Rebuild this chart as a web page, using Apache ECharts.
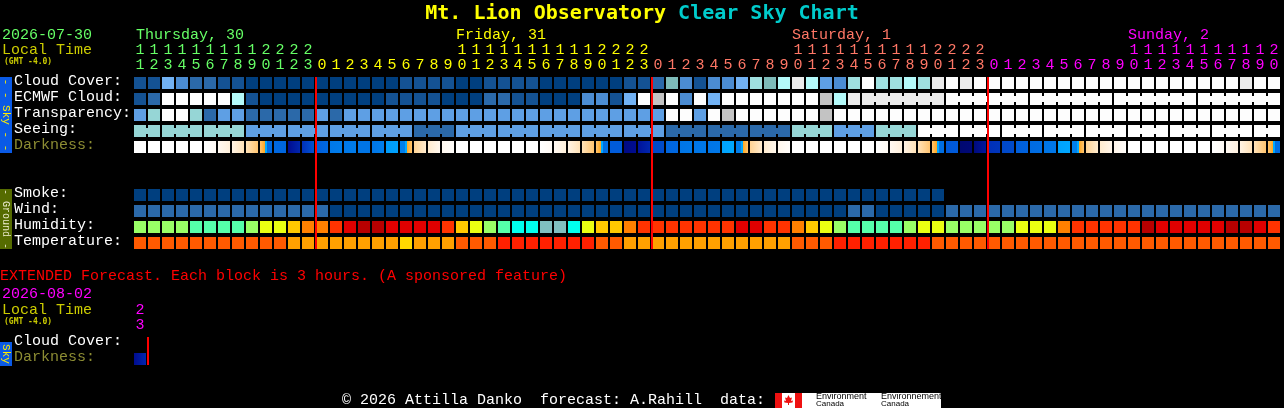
<!DOCTYPE html>
<html><head><meta charset="utf-8">
<style>html,body{margin:0;padding:0;background:#000}#c{width:1284px;height:408px}</style>
<script src="https://cdn.jsdelivr.net/npm/echarts@6/dist/echarts.min.js"></script>
</head><body><div id="c"></div>
<script>
const hours=['11','12','13','14','15','16','17','18','19','20','21','22','23',
'0','1','2','3','4','5','6','7','8','9','10','11','12','13','14','15','16','17','18','19','20','21','22','23',
'0','1','2','3','4','5','6','7','8','9','10','11','12','13','14','15','16','17','18','19','20','21','22','23',
'0','1','2','3','4','5','6','7','8','9','10','11','12','13','14','15','16','17','18','19','20'];
const rowNames=['Cloud Cover:','ECMWF Cloud:','Transparency:','Seeing:','Darkness:','','','Smoke:','Wind:','Humidity:','Temperature:'];
const midnightCols=[13,37,61];
const skyColors=['#003f7f','#145293','#2b69a9','#4b8cd2','#5e9fe4','#72b2f4','#7dbbb9','#9fe0e0','#b4fafa','#ebebeb','#fdfdfd','#c3c3c3','#96d6d6'];
const cloudCover=[1,1,5,3,2,2,1,1,0,0, 0,0,0,0,0,0,0,0,0,1, 1,1,1,0,0,1,1,1,1,0, 0,0,0,0,0,1,1,2,6,3, 1,3,3,5,7,6,8,9,8,4, 3,7,10,7,7,8,7,9,10,9, 10,10,10,10,10,10,10,10,10,10, 10,10,10,10,10,10,10,10,10,9,10,10];
const ecmwfCloud=[1,2,10,10,10,10,10,8,1,0, 0,0,0,0,0,0,0,0,1,1, 1,1,0,0,0,2,2,1,1,0, 0,0,3,3,1,5,10,11,10,3, 10,5,10,10,10,10,10,10,10,11, 8,9,9,9,9,9,9,9,10,10, 10,10,10,10,10,10,10,10,10,10, 10,10,10,10,10,10,10,10,10,10,10,10];
const transparency=[4,12,10,10,12,2,4,4,2,2, 2,2,2,4,2,4,4,4,4,4, 4,4,4,4,4,4,4,4,4,4, 4,4,4,4,4,4,4,4,10,10, 4,10,11,10,10,10,10,10,10,11, 10,10,10,10,10,10,10,10,10,10, 10,10,10,10,10,10,10,10,10,10, 10,10,10,10,10,10,10,10,10,10,10,10];
const seeing=[12,12,12,12,12,12,12,12,4,4, 4,4,4,4,4,4,4,4,4,4, 2,2,2,4,4,4,4,4,4,4, 4,4,4,4,4,4,4,4,2,2, 2,2,2,2,2,2,2,12,12,12, 4,4,4,12,12,12,10,10,10,10, 10,10,10,10,10,10,10,10,10,10, 10,10,10,10,10,10,10,10,10,10,10,10];
const seeingRuns=[2,3,3,3,3,3,3,3,3,3,3,3,3,3,3,3,3,3,3,3,3,3,3,3,3,3,3,2];
const ecmwfRuns=[...new Array(52).fill(1),6,6,6,6,6];
const darknessStart=[0,0,0,0,0,0,.5,1,2,3, 5.5,8,7,5.8,5,5,5.1,5.1,4.2,4.8, 2.5,1.5,.6,0,0,0,0,0,0,0, .5,1,2,3,5.9,8.2,7.7,6.5,5.6,5.1, 5.1,5.1,4.1,4.8,2.5,1.5,.7,0,0,0, 0,0,0,0,.5,1,2,3,6,8.5, 8.3,7,6.5,5.8,5.4,5.1,4.1,4.8,2.5,1.5, .8,0,0,0,0,0,0,0,.5,1,2,3];
const darknessEnd=[0,0,0,0,0,.4,1.2,2,3,5.5, 5.6,7.2,6.2,5.5,4.9,4.9,5.1,4.8,4.1,3, 1.5,.6,.2,0,0,0,0,0,0,.4, 1.2,2,3,5.3,5.9,8,7.2,6.4,5.5,5, 5,5,4,3,1.5,.7,.2,0,0,0, 0,0,0,.4,1.2,2,3,5.3,5.9,8.4, 7.6,6.9,6.4,5.7,5.3,5,4,3,1.5,.8, .2,0,0,0,0,0,0,.4,1.1,2,3,5.3];
const darknessRamp=[[0,'#ffffff'],[1,'#fff3e4'],[2,'#ffe2b8'],[3,'#ffc470'],[3.5,'#ffa820'],[4,'#00a8ff'],[4.5,'#008af2'],[5,'#0078e8'],[5.5,'#0068e0'],[6,'#0058d8'],[6.5,'#0048c8'],[7,'#0030b8'],[7.5,'#0018a0'],[8,'#000c90'],[8.5,'#000870']];
const smokeColors=['#003f7f'];
const smoke=new Array(58).fill(0);
const windColors=['#003f7f','#2b69a9'];
const wind=[1,1,1,1,1,1,1,1,1,1, 1,1,1,1,0,0,0,0,0,0, 0,0,0,0,0,0,0,0,0,0, 0,0,0,0,0,0,0,0,0,0, 0,0,0,0,0,0,0,0,0,0, 0,1,1,0,0,0,0,0,1,1, 1,1,1,1,1,1,1,1,1,1, 1,1,1,1,1,1,1,1,1,1,1,1];
const humidityColors=['#99ff66','#55ffaa','#eaff12','#ffc800','#ff8000','#ff3300','#e00000','#b80000','#00ffee','#80c0c0'];
const humidity=[0,0,0,0,1,1,1,1,0,2, 2,3,4,4,5,6,7,7,6,6, 6,6,5,3,2,0,1,8,8,9, 9,8,2,3,3,4,5,5,5,5, 5,5,5,6,6,5,5,4,3,2, 0,1,1,1,1,0,2,2,0,0, 0,0,0,2,2,2,4,5,5,5, 5,5,7,6,6,6,6,6,7,7,6,5];
const temperatureColors=['#ff5a00','#ffa000','#ffd800','#ff2000'];
const temperature=[0,0,0,0,0,0,0,0,0,0, 0,1,1,1,1,1,1,1,1,2, 1,1,1,0,0,0,3,3,3,3, 3,3,3,0,0,1,1,1,1,1, 1,1,1,1,1,1,1,0,0,0, 3,3,3,3,3,3,3,0,0,0, 0,0,0,0,0,0,0,0,0,0, 0,0,0,0,0,0,0,0,0,0,0,0];
const extHours=['23',''];
const extRows=['Cloud Cover:','Darkness:'];
const extDarkStart=[8], extDarkEnd=[7.2], extMidnight=[1];

const FONT='"Liberation Mono","DejaVu Sans Mono",monospace';
const TITLEFONT='"DejaVu Sans Mono",monospace';
const dayColor=i=>i<13?'#66ff66':i<37?'#ffff00':i<61?'#ff7766':'#ff00ff';

function joinFlags(runs){const f=[];runs.forEach(n=>{for(let k=0;k<n;k++)f.push(k<n-1?1:0)});return f}
function hex(c){return [1,3,5].map(p=>parseInt(c.substr(p,2),16))}
function ramp(v){
  const r=darknessRamp;
  if(v<=r[0][0])return r[0][1];
  for(let k=1;k<r.length;k++){
    if(v<=r[k][0]){
      const t=(v-r[k-1][0])/(r[k][0]-r[k-1][0]),a=hex(r[k-1][1]),b=hex(r[k][1]);
      return 'rgb('+a.map((x,j)=>Math.round(x+(b[j]-x)*t)).join(',')+')';
    }
  }
  return r[r.length-1][1];
}
function darkFill(a,b){
  let stops;
  if(a<3.5&&b>3.5){
    stops=[[0,ramp(a)],[.4,'#ffa820'],[.41,'#00a8ff'],[.56,'#00a8ff'],[.58,ramp(b)],[1,ramp(b)]];
  }else if(a>3.5&&b<3.5){
    stops=[[0,ramp(a)],[.4,ramp(a)],[.42,'#00a8ff'],[.58,'#00a8ff'],[.59,'#ffa820'],[1,ramp(b)]];
  }else stops=[[0,ramp(a)],[1,ramp(b)]];
  return {type:'linear',x:0,y:0,x2:1,y2:0,colorStops:stops.map(s=>({offset:s[0],color:s[1]}))};
}
function cellItem(palette){
  return (params,api)=>{
    const p=api.coord([api.value(0),api.value(1)]);
    const x=Math.round(p[0])-6,y=Math.round(p[1])-6,col=palette[api.value(2)];
    const kids=[{type:'rect',shape:{x:x,y:y,width:12,height:12},style:{fill:col}}];
    if(api.value(3))kids.push({type:'rect',shape:{x:x+12,y:y+3,width:2,height:6},style:{fill:col}});
    return {type:'group',children:kids};
  };
}
function cellSeries(name,row,values,palette,runs){
  const j=runs?joinFlags(runs):[];
  return {type:'custom',name:name,silent:true,clip:false,animation:false,
    data:values.map((v,i)=>[i,row,v,j[i]||0]),encode:{x:0,y:1},renderItem:cellItem(palette)};
}
function darkSeries(starts,ends,row,xi){
  return {type:'custom',name:'Darkness',silent:true,clip:false,animation:false,xAxisIndex:xi,yAxisIndex:xi,
    data:starts.map((v,i)=>[i,row,v,ends[i]]),encode:{x:0,y:1},
    renderItem:(params,api)=>{
      const p=api.coord([api.value(0),api.value(1)]);
      return {type:'rect',shape:{x:Math.round(p[0])-6,y:Math.round(p[1])-6,width:12,height:12},
        style:{fill:darkFill(api.value(2),api.value(3))}};
    }};
}
function lineSeries(cols,r0,r1,xi){
  return {type:'custom',name:'Midnight',silent:true,clip:false,animation:false,xAxisIndex:xi,yAxisIndex:xi,z:10,
    data:cols.map(c=>[c,r0,r1]),encode:{x:0,y:1},
    renderItem:(params,api)=>{
      const a=api.coord([api.value(0),api.value(1)]),b=api.coord([api.value(0),api.value(2)]);
      return {type:'rect',z2:100,shape:{x:Math.round(a[0])-7,y:Math.round(a[1])-6,width:2,height:Math.round(b[1]-a[1])+12},style:{fill:'#ff0000'}};
    }};
}
function t(text,x,y,fill,font){return {type:'text',silent:true,style:{text:text,x:x,y:y,fill:fill,font:font||('15px '+FONT),textVerticalAlign:'middle'}}}
function r(x,y,w,h,fill){return {type:'rect',silent:true,shape:{x:x,y:y,width:w,height:h},style:{fill:fill}}}
function v(text,cx,cy,fill,font){return {type:'text',silent:true,x:cx,y:cy,rotation:-Math.PI/2,style:{text:text,x:0,y:0,fill:fill,font:font,textAlign:'center',textVerticalAlign:'middle'}}}

const small='bold 8px '+TITLEFONT;
const graphics=[
  t('2026-07-30',2,35,'#66ff66'),
  t('Local Time',2,50,'#cccc00'),
  t('(GMT -4.0)',4,62,'#cccc00',small),
  t('Thursday, 30',136,35,'#66ff66'),
  t('Friday, 31',456,35,'#ffff00'),
  t('Saturday, 1',792,35,'#ff7766'),
  t('Sunday, 2',1128,35,'#ff00ff'),
  r(0,77,12,76,'#0a5ae6'),
  v('- - Sky - -',6,115,'#ffee00','11px '+FONT),
  r(0,189,12,60,'#556b00'),
  v('- Ground -',6,219,'#e8e8c8','10px '+FONT),
  t('EXTENDED Forecast. Each block is 3 hours. (A sponsored feature)',0,276,'#ff0000'),
  t('2026-08-02',2,294,'#ff00ff'),
  t('Local Time',2,310,'#cccc00'),
  t('(GMT -4.0)',4,322,'#cccc00',small),
  r(0,342,12,24,'#0a5ae6'),
  v('Sky',6,354,'#ffee00','11px '+FONT),
  t('\u00a9 2026 Attilla Danko  forecast: A.Rahill  data:',342,400,'#ffffff'),
  r(775,393,27,15,'#ffffff'),
  r(775,393,7,15,'#ee1111'),
  r(795,393,7,15,'#ee1111'),
  {type:'polygon',silent:true,shape:{points:[[788.5,395],[790,398],[792,397.5],[791,401],[793,400.5],[792.5,402.5],[789,403],[789,405],[788,405],[788,403],[784.5,402.5],[784,400.5],[786,401],[785,397.5],[787,398]]},style:{fill:'#ee1111'}},
  r(802,393,139,15,'#ffffff'),
  t('Environment',816,397,'#000000','9px "Liberation Sans"'),
  t('Canada',816,404,'#000000','8px "Liberation Sans"'),
  t('Environnement',881,397,'#000000','9px "Liberation Sans"'),
  t('Canada',881,404,'#000000','8px "Liberation Sans"')
];

const rowLabel={interval:0,align:'left',margin:119,fontFamily:FONT,fontSize:15,verticalAlign:'bottom',lineHeight:4,
  color:val=>val==='Darkness:'?'#8c8c33':'#ffffff'};
const chart=echarts.init(document.getElementById('c'),null,{renderer:'canvas'});
chart.setOption({
  backgroundColor:'#000000',animation:false,
  title:{left:'center',top:-1,text:'{a|Mt. Lion Observatory }{b|Clear Sky Chart}',
    textStyle:{rich:{a:{color:'#ffff00',fontFamily:TITLEFONT,fontWeight:'bold',fontSize:20},b:{color:'#00cccc',fontFamily:TITLEFONT,fontWeight:'bold',fontSize:20}}}},
  grid:[{left:133,top:75,width:1148,height:176,containLabel:false},{left:133,top:335,width:28,height:32,containLabel:false}],
  xAxis:[
    {type:'category',gridIndex:0,position:'top',data:hours,axisLine:{show:false},axisTick:{show:false},splitLine:{show:false},
     axisLabel:{interval:0,margin:2,fontFamily:FONT,fontSize:15,lineHeight:15,
       color:(val,i)=>dayColor(i),
       formatter:val=>(val.length>1?val[0]:' ')+'\n'+val[val.length-1]}},
    {type:'category',gridIndex:1,position:'top',data:extHours,axisLine:{show:false},axisTick:{show:false},splitLine:{show:false},
     axisLabel:{interval:0,margin:2,fontFamily:FONT,fontSize:15,lineHeight:15,color:'#ff00ff',
       formatter:val=>val?val[0]+'\n'+val[1]:''}}
  ],
  yAxis:[
    {type:'category',gridIndex:0,inverse:true,data:rowNames,axisLine:{show:false},axisTick:{show:false},splitLine:{show:false},axisLabel:rowLabel},
    {type:'category',gridIndex:1,inverse:true,data:extRows,axisLine:{show:false},axisTick:{show:false},splitLine:{show:false},axisLabel:rowLabel}
  ],
  series:[
    cellSeries('Cloud Cover',0,cloudCover,skyColors),
    cellSeries('ECMWF Cloud',1,ecmwfCloud,skyColors,ecmwfRuns),
    cellSeries('Transparency',2,transparency,skyColors),
    cellSeries('Seeing',3,seeing,skyColors,seeingRuns),
    darkSeries(darknessStart,darknessEnd,4,0),
    cellSeries('Smoke',7,smoke,smokeColors),
    cellSeries('Wind',8,wind,windColors),
    cellSeries('Humidity',9,humidity,humidityColors),
    cellSeries('Temperature',10,temperature,temperatureColors),
    lineSeries(midnightCols,0,10,0),
    darkSeries(extDarkStart,extDarkEnd,1,1),
    lineSeries(extMidnight,0,1,1)
  ],
  graphic:{elements:graphics}
});
</script></body></html>
